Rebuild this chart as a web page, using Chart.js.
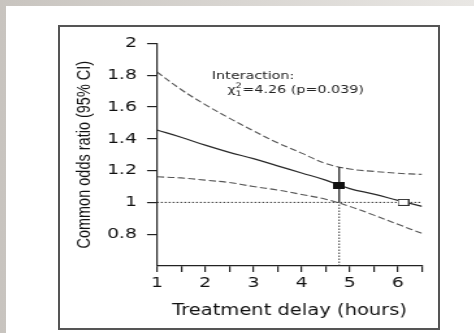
<!DOCTYPE html>
<html>
<head>
<meta charset="utf-8">
<script src="https://cdn.jsdelivr.net/npm/chart.js@4"></script>
<style>
  html, body { margin: 0; padding: 0; }
  body {
    width: 474px; height: 333px; position: relative; overflow: hidden;
    background: linear-gradient(to right, #c8c4bf, #e9e7e4);
  }
  #panel { position: absolute; left: 6px; top: 6px; right: 0; bottom: 0; background: #fff; }
  #frame {
    position: absolute; left: 58px; top: 25px; width: 382px; height: 305px;
    box-sizing: border-box; border: 2px solid #555; background: #fff;
  }
  /* the original figure is stretched sideways, so is this canvas */
  #myChart { position: absolute; left: 0; top: 0; transform: scaleX(1.3); transform-origin: 0 0; }
</style>
</head>
<body>
<div id="panel"></div>
<div id="frame"><canvas id="myChart" width="291" height="301"></canvas></div>
<script>
// Datos
var delayHours = [1, 1.5, 2, 2.5, 3, 3.5, 4, 4.5, 5, 5.5, 6, 6.5];
var oddsRatio  = [1.455, 1.41, 1.36, 1.315, 1.275, 1.23, 1.185, 1.14, 1.087, 1.052, 1.013, 0.975];
var upperCI    = [1.82, 1.71, 1.615, 1.53, 1.45, 1.375, 1.31, 1.245, 1.21, 1.195, 1.183, 1.176];
var lowerCI    = [1.161, 1.154, 1.14, 1.125, 1.10, 1.078, 1.05, 1.02, 0.975, 0.92, 0.862, 0.805];

// marcador negro (retraso medio) con su intervalo, y marcador blanco (OR = 1)
var meanDelay = [4.78];
var meanOR = [1.105];
var meanUpper = [1.222];
var meanLower = [1.0];
var nullDelay = [6.11];
var nullOR = [1.0];

var yTicks = [0.8, 1, 1.2, 1.4, 1.6, 1.8, 2];
var xTickLabels = [1, 2, 3, 4, 5, 6];

var interactionLine1 = 'Interaction:';
var interactionStat = '=4.26 (p=0.039)';

var FONT = '"DejaVu Sans", sans-serif';

function pts(xs, ys) {
  return xs.map(function(x, i) { return { x: x, y: ys[i] }; });
}

// marcador rectangular (mas ancho que alto, como en la figura)
function makeMarker(fill, stroke) {
  var c = document.createElement('canvas');
  c.width = 9; c.height = 7;
  var g = c.getContext('2d');
  g.fillStyle = fill;
  g.fillRect(0, 0, 9, 7);
  g.strokeStyle = stroke;
  g.lineWidth = 1;
  g.strokeRect(0.5, 0.5, 8, 6);
  return c;
}

// Texto de la interaccion dentro del grafico
var interactionText = {
  id: 'interactionText',
  afterDatasetsDraw: function(chart) {
    var ctx = chart.ctx, sx = chart.scales.x, sy = chart.scales.y;
    ctx.save();
    ctx.fillStyle = '#222';
    ctx.textAlign = 'left';
    ctx.textBaseline = 'middle';
    ctx.font = '11px ' + FONT;
    ctx.fillText(interactionLine1, sx.getPixelForValue(2.14), sy.getPixelForValue(1.794));
    var x = sx.getPixelForValue(2.46), y = sy.getPixelForValue(1.708);
    ctx.fillText('\u03c7', x, y);
    x += ctx.measureText('\u03c7').width;
    ctx.font = '7.5px ' + FONT;
    ctx.fillText('2', x, y - 4);
    ctx.fillText('1', x, y + 4);
    x += ctx.measureText('2').width + 0.5;
    ctx.font = '11px ' + FONT;
    ctx.fillText(interactionStat, x, y);
    ctx.restore();
  }
};

var ctx2 = document.getElementById('myChart').getContext('2d');

var chart = new Chart(ctx2, {
  type: 'line',
  data: {
    datasets: [
      {
        data: pts(meanDelay, meanOR),
        showLine: false,
        pointStyle: makeMarker('#111', '#111'),
        pointRadius: 5
      },
      {
        data: pts(nullDelay, nullOR),
        showLine: false,
        pointStyle: makeMarker('#fff', '#333'),
        pointRadius: 5
      },
      {
        // barra de error del marcador negro
        data: [{ x: meanDelay[0], y: meanLower[0] }, { x: meanDelay[0], y: meanUpper[0] }],
        borderColor: '#222',
        borderWidth: 1.3,
        pointRadius: 0
      },
      {
        data: pts(delayHours, oddsRatio),
        borderColor: '#2a2a2a',
        borderWidth: 1.2,
        pointRadius: 0,
        tension: 0.4
      },
      {
        data: pts(delayHours, upperCI),
        borderColor: '#555',
        borderWidth: 1.1,
        borderDash: [5.5, 2.5],
        pointRadius: 0,
        tension: 0.4
      },
      {
        data: pts(delayHours, lowerCI),
        borderColor: '#555',
        borderWidth: 1.1,
        borderDash: [5.5, 2.5],
        pointRadius: 0,
        tension: 0.4
      },
      {
        // linea de referencia OR = 1
        data: [{ x: delayHours[0], y: 1 }, { x: delayHours[delayHours.length - 1], y: 1 }],
        borderColor: '#333',
        borderWidth: 1,
        borderDash: [1.5, 1.5],
        pointRadius: 0
      },
      {
        data: [{ x: meanDelay[0], y: 0.6 }, { x: meanDelay[0], y: meanLower[0] }],
        borderColor: '#333',
        borderWidth: 1,
        borderDash: [1.5, 1.5],
        pointRadius: 0
      }
    ]
  },
  options: {
    responsive: false,
    animation: false,
    layout: { padding: { top: 15.3, right: 12.5, left: 0, bottom: 0 } },
    plugins: { legend: { display: false }, tooltip: { enabled: false } },
    scales: {
      x: {
        type: 'linear',
        min: 1,
        max: 6.5,
        afterFit: function(s) { s.height = 62; },
        ticks: {
          stepSize: 0.5,
          autoSkip: false,
          maxRotation: 0,
          padding: 3,
          color: '#111',
          font: { family: FONT, size: 14.5 },
          callback: function(v) { return xTickLabels.indexOf(v) >= 0 ? String(v) : ''; }
        },
        grid: { drawOnChartArea: false, drawTicks: true, tickLength: 6, color: '#222', lineWidth: 1.2 },
        border: { display: true, color: '#222', width: 1.2 },
        title: {
          display: true,
          text: 'Treatment delay (hours)',
          color: '#111',
          font: { family: FONT, size: 15 },
          padding: { top: 0, bottom: 8 }
        }
      },
      y: {
        type: 'linear',
        min: 0.6,
        max: 2,
        afterFit: function(s) { s.width = 74.6; },
        ticks: {
          stepSize: 0.2,
          padding: 7.7,
          color: '#111',
          font: { family: FONT, size: 14.5 },
          callback: function(v) {
            var r = Math.round(v * 10) / 10;
            return yTicks.indexOf(r) >= 0 ? String(r) : '';
          }
        },
        grid: {
          drawOnChartArea: false,
          drawTicks: true,
          tickLength: 7.7,
          lineWidth: 1.2,
          color: function(c) { return c.tick && c.tick.value < 0.7 ? 'rgba(0,0,0,0)' : '#222'; }
        },
        border: { display: true, color: '#222', width: 1.2 },
        title: {
          display: true,
          text: 'Common odds ratio (95% CI)',
          color: '#111',
          font: { family: '"Liberation Sans", Arial, sans-serif', size: 14.5 },
          padding: { top: 10.6, bottom: 0 }
        }
      }
    }
  },
  plugins: [interactionText]
});
</script>
</body>
</html>
